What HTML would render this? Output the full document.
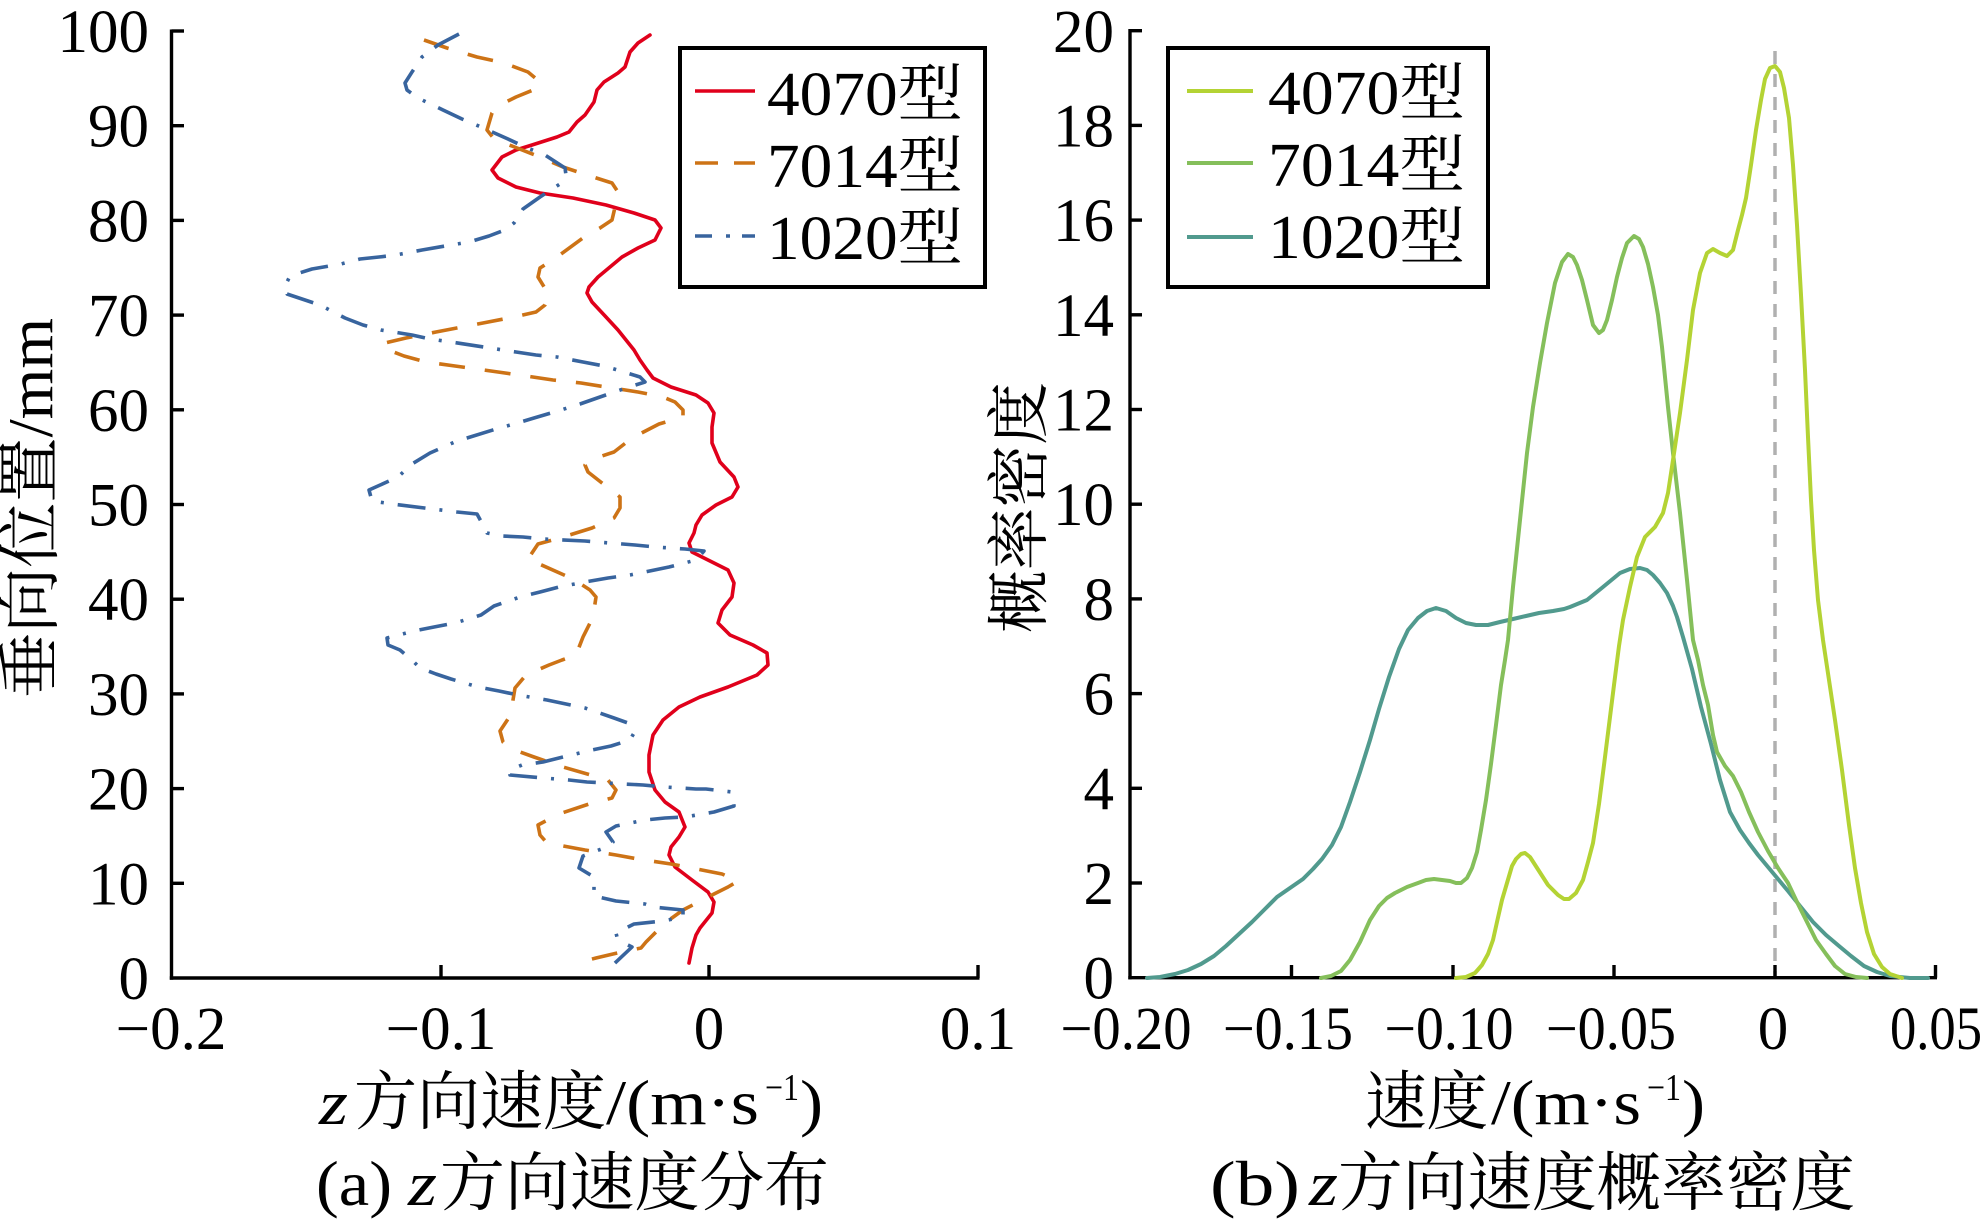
<!DOCTYPE html>
<html>
<head>
<meta charset="utf-8">
<style>
html,body{margin:0;padding:0;background:#fff;}
svg{display:block;}
text{font-family:"Liberation Serif","Noto Serif CJK SC",serif;fill:#000;}
</style>
</head>
<body>
<svg width="1984" height="1226" viewBox="0 0 1984 1226" xmlns="http://www.w3.org/2000/svg">
<rect width="1984" height="1226" fill="#fff"/>

<!-- ============ LEFT PLOT ============ -->
<g stroke="#000" stroke-width="3.4" fill="none">
  <line x1="171.5" y1="29.5" x2="171.5" y2="979.7"/>
  <line x1="169.8" y1="978" x2="979.5" y2="978"/>
  <line x1="171.5" y1="31" x2="184" y2="31"/>
  <line x1="171.5" y1="125.7" x2="184" y2="125.7"/>
  <line x1="171.5" y1="220.4" x2="184" y2="220.4"/>
  <line x1="171.5" y1="315.1" x2="184" y2="315.1"/>
  <line x1="171.5" y1="409.8" x2="184" y2="409.8"/>
  <line x1="171.5" y1="504.5" x2="184" y2="504.5"/>
  <line x1="171.5" y1="599.2" x2="184" y2="599.2"/>
  <line x1="171.5" y1="693.9" x2="184" y2="693.9"/>
  <line x1="171.5" y1="788.6" x2="184" y2="788.6"/>
  <line x1="171.5" y1="883.3" x2="184" y2="883.3"/>
  <line x1="441" y1="978" x2="441" y2="965"/>
  <line x1="709" y1="978" x2="709" y2="965"/>
  <line x1="978" y1="978" x2="978" y2="965"/>
</g>
<g font-size="61" text-anchor="end">
  <text x="149" y="52">100</text>
  <text x="149" y="146.7">90</text>
  <text x="149" y="241.4">80</text>
  <text x="149" y="336">70</text>
  <text x="149" y="430.8">60</text>
  <text x="149" y="525.5">50</text>
  <text x="149" y="620.2">40</text>
  <text x="149" y="715">30</text>
  <text x="149" y="809.6">20</text>
  <text x="149" y="904.3">10</text>
  <text x="149" y="999">0</text>
</g>
<g font-size="61" text-anchor="middle">
  <text x="171" y="1049">−0.2</text>
  <text x="441" y="1049">−0.1</text>
  <text x="709" y="1049">0</text>
  <text x="978" y="1049">0.1</text>
</g>

<polyline fill="none" stroke="#e0001b" stroke-width="3.6" stroke-linejoin="round" stroke-linecap="round"
points="650,35 638,43 630,52 625,67 618,73 604,82 597,90 594,102 585,115 577,122 569,132 557,137 532,145 516,150 502,157 492,170 498,178 516,187 540,193 573,198 606,205 634,213 655,220 661,228 655,240 638,248 622,257 610,267 598,277 589,287 587,293 592,302 606,317 618,330 626,340 634,350 640,360 647,370 653,378 671,387 696,395 708,403 714,413 712,427 712,443 720,462 734,477 738,487 732,497 716,505 702,515 696,525 694,533 689,543 692,552 708,560 728,570 734,583 732,597 722,610 718,623 730,635 753,645 767,653 768,665 757,675 728,687 700,697 679,707 663,720 653,735 649,755 649,772 655,790 665,802 679,812 685,827 679,837 671,847 669,855 675,867 692,880 708,892 714,902 712,913 700,928 696,935 692,948 689,963"/>

<polyline fill="none" stroke="#cd7316" stroke-width="3.6" stroke-linejoin="round" stroke-dasharray="26 20"
points="424,40 447,48 477,57 504,63 528,72 540,82 538,88 516,97 498,106 492,113 487,130 495,140 512,146 540,157 563,167 587,175 612,183 618,192 616,203 612,220 600,228 587,235 557,257 540,268 538,277 549,295 545,305 536,312 514,317 483,323 436,332 406,338 385,343 383,348 404,356 426,362 455,366 498,372 526,376 553,380 581,383 606,387 638,392 663,397 675,402 683,410 683,417 659,424 632,438 614,452 590,460 585,465 588,472 602,483 620,497 620,508 614,518 592,528 563,537 538,544 528,559 573,579 590,590 596,597 593,617 583,637 576,655 562,660 549,665 526,675 515,688 513,700 512,713 500,731 503,742 512,749 534,757 563,767 608,780 616,790 612,798 589,804 559,814 538,825 540,835 547,843 585,850 616,855 638,859 671,864 692,868 722,874 738,881 728,887 714,894 683,910 665,923 650,938 646,942 641,948 626,951 596,958 573,964"/>

<polyline fill="none" stroke="#38649e" stroke-width="3.6" stroke-linejoin="round" stroke-dasharray="28 14 3 14"
points="459,34 438,45 422,57 412,72 405,83 407,90 418,98 443,110 462,119 481,127 508,139 525,147 545,155 565,168 566,175 563,182 540,197 523,209 514,223 505,230 489,236 469,242 451,245 422,250 396,255 379,257 360,259 341,264 312,269 290,276 284,288 287,294 308,301 320,305 345,318 363,325 381,330 412,335 430,339 451,342 516,352 536,355 557,357 583,362 604,366 624,372 640,377 645,382 626,388 600,397 580,404 561,410 534,418 514,424 496,429 467,438 457,441 430,453 412,464 398,477 369,490 372,501 392,504 457,512 477,514 483,525 487,533 502,536 523,537 543,539 585,541 610,543 635,545 655,547 685,549 704,551 696,560 669,567 630,575 608,578 585,582 559,587 540,592 520,597 494,606 481,615 455,623 434,627 414,631 387,638 388,645 400,650 414,662 420,668 436,674 451,679 478,687 499,691 518,695 547,700 566,704 585,708 614,718 628,723 634,733 630,740 611,746 592,750 563,757 543,762 522,765 510,770 510,775 543,778 569,780 587,782 624,784 643,785 665,787 696,789 706,789 732,792 734,806 714,812 685,817 665,818 645,820 616,826 606,832 613,842 604,848 583,856 579,868 594,877 594,885 594,896 616,901 645,904 653,907 683,910 683,917 663,921 634,924 616,933 617,937 622,942 632,947 614,964"/>

<rect x="680" y="48" width="305" height="239" fill="#fff" stroke="#000" stroke-width="4"/>
<line x1="695" y1="91" x2="755" y2="91" stroke="#e0001b" stroke-width="3.6"/>
<line x1="695" y1="163" x2="755" y2="163" stroke="#cd7316" stroke-width="3.6" stroke-dasharray="23 16"/>
<line x1="695" y1="236" x2="755" y2="236" stroke="#38649e" stroke-width="3.6" stroke-dasharray="17 14 4 12"/>
<g font-size="62">
  <text x="767" y="115" textLength="196" lengthAdjust="spacingAndGlyphs">4070型</text>
  <text x="767" y="187" textLength="196" lengthAdjust="spacingAndGlyphs">7014型</text>
  <text x="767" y="259" textLength="196" lengthAdjust="spacingAndGlyphs">1020型</text>
</g>

<text transform="translate(52,698) rotate(-90)" x="0" y="0" font-size="64" textLength="380" lengthAdjust="spacingAndGlyphs">垂向位置/mm</text>

<g font-size="64">
  <text x="319" y="1124" font-style="italic" textLength="29" lengthAdjust="spacingAndGlyphs">z</text>
  <text x="354" y="1124" textLength="252" lengthAdjust="spacingAndGlyphs">方向速度</text>
  <text x="606" y="1124" textLength="153" lengthAdjust="spacingAndGlyphs">/(m·s</text>
  <text x="765" y="1100" font-size="38" textLength="34" lengthAdjust="spacingAndGlyphs">−1</text>
  <text x="800" y="1124" textLength="23" lengthAdjust="spacingAndGlyphs">)</text>

  <text x="316" y="1205" textLength="76" lengthAdjust="spacingAndGlyphs">(a)</text>
  <text x="408" y="1205" font-style="italic" textLength="29" lengthAdjust="spacingAndGlyphs">z</text>
  <text x="440" y="1205" textLength="389" lengthAdjust="spacingAndGlyphs">方向速度分布</text>
</g>

<!-- ============ RIGHT PLOT ============ -->
<line x1="1775" y1="51" x2="1775" y2="978" stroke="#b0b0b0" stroke-width="3.5" stroke-dasharray="13 10"/>

<g stroke="#000" stroke-width="3.4" fill="none">
  <line x1="1130" y1="29" x2="1130" y2="979.4"/>
  <line x1="1128.3" y1="977.7" x2="1937" y2="977.7"/>
  <line x1="1130" y1="30.7" x2="1142" y2="30.7"/>
  <line x1="1130" y1="125.4" x2="1142" y2="125.4"/>
  <line x1="1130" y1="220.1" x2="1142" y2="220.1"/>
  <line x1="1130" y1="314.8" x2="1142" y2="314.8"/>
  <line x1="1130" y1="409.5" x2="1142" y2="409.5"/>
  <line x1="1130" y1="504.2" x2="1142" y2="504.2"/>
  <line x1="1130" y1="598.9" x2="1142" y2="598.9"/>
  <line x1="1130" y1="693.6" x2="1142" y2="693.6"/>
  <line x1="1130" y1="788.3" x2="1142" y2="788.3"/>
  <line x1="1130" y1="883" x2="1142" y2="883"/>
  <line x1="1291.5" y1="977.7" x2="1291.5" y2="965"/>
  <line x1="1453" y1="977.7" x2="1453" y2="965"/>
  <line x1="1614" y1="977.7" x2="1614" y2="965"/>
  <line x1="1775" y1="977.7" x2="1775" y2="965"/>
  <line x1="1935.5" y1="977.7" x2="1935.5" y2="965"/>
</g>
<g font-size="61" text-anchor="end">
  <text x="1114" y="52">20</text>
  <text x="1114" y="146.4">18</text>
  <text x="1114" y="241.1">16</text>
  <text x="1114" y="335.8">14</text>
  <text x="1114" y="430.5">12</text>
  <text x="1114" y="525.2">10</text>
  <text x="1114" y="619.9">8</text>
  <text x="1114" y="714.6">6</text>
  <text x="1114" y="809.3">4</text>
  <text x="1114" y="904">2</text>
  <text x="1114" y="998.7">0</text>
</g>
<g font-size="61" text-anchor="middle">
  <text x="1126" y="1049" textLength="131" lengthAdjust="spacingAndGlyphs">−0.20</text>
  <text x="1288" y="1049" textLength="130" lengthAdjust="spacingAndGlyphs">−0.15</text>
  <text x="1449" y="1049" textLength="129" lengthAdjust="spacingAndGlyphs">−0.10</text>
  <text x="1611" y="1049" textLength="130" lengthAdjust="spacingAndGlyphs">−0.05</text>
  <text x="1773" y="1049">0</text>
  <text x="1936" y="1049" textLength="92" lengthAdjust="spacingAndGlyphs">0.05</text>
</g>

<polyline fill="none" stroke="#519a8e" stroke-width="4" stroke-linejoin="round" stroke-linecap="round"
points="1147,978 1160,977 1175,974 1188,970 1201,964 1214,956 1226,946 1239,934 1252,922 1265,909 1277,897 1290,888 1303,879 1313,869 1322,859 1332,845 1341,827 1350,802 1360,772 1370,740 1379,709 1389,677 1399,649 1408,630 1418,618 1427,611 1436,608 1446,611 1456,618 1466,623 1476,625 1488,625 1500,622 1513,619 1526,616 1539,613 1553,611 1564,609 1570,607 1587,600 1603,587 1620,573 1630,569 1640,568 1647,570 1653,575 1660,583 1667,593 1673,606 1677,617 1683,637 1692,669 1701,707 1711,744 1720,780 1730,812 1740,830 1749,843 1758,855 1768,867 1778,879 1788,891 1800,906 1813,922 1826,935 1839,946 1851,956 1864,966 1877,972 1890,976 1910,978 1928,978"/>

<polyline fill="none" stroke="#85bf5b" stroke-width="4" stroke-linejoin="round" stroke-linecap="round"
points="1321,978 1331,976 1341,971 1350,960 1360,942 1370,920 1379,906 1387,898 1395,893 1407,887 1418,883 1426,880 1434,879 1442,880 1450,881 1456,883 1461,883 1467,878 1472,868 1477,852 1481,830 1486,800 1491,764 1496,725 1501,685 1505,660 1508,640 1513,587 1520,520 1527,453 1533,407 1540,363 1547,323 1555,283 1562,262 1568,254 1573,257 1577,265 1582,280 1587,300 1593,325 1599,333 1603,330 1607,320 1612,300 1617,277 1622,258 1627,243 1634,236 1639,239 1643,247 1648,264 1653,287 1658,315 1662,347 1668,407 1673,453 1680,513 1687,580 1693,640 1698,660 1703,685 1708,705 1713,735 1717,752 1725,766 1733,776 1741,792 1749,812 1758,832 1768,851 1778,868 1788,883 1797,902 1807,922 1816,940 1826,954 1835,966 1845,974 1856,977 1867,978"/>

<polyline fill="none" stroke="#b4d334" stroke-width="4" stroke-linejoin="round" stroke-linecap="round"
points="1456,978 1466,977 1475,973 1482,965 1488,954 1493,940 1497,922 1502,900 1507,883 1512,866 1516,859 1521,854 1525,853 1530,857 1539,871 1548,885 1558,895 1564,899 1569,899 1576,893 1583,880 1588,862 1593,843 1599,804 1604,765 1609,725 1614,685 1619,646 1623,620 1630,587 1637,557 1645,537 1655,527 1663,513 1668,493 1673,460 1680,413 1687,360 1693,310 1700,273 1707,253 1713,249 1720,253 1727,256 1733,250 1738,230 1742,215 1746,198 1751,165 1756,130 1761,100 1765,79 1770,68 1775,66 1780,72 1784,88 1789,118 1793,165 1797,225 1801,295 1805,370 1808,437 1811,500 1814,550 1818,600 1823,640 1829,680 1835,720 1842,770 1849,825 1855,868 1861,903 1867,932 1874,954 1882,967 1890,974 1902,978"/>

<rect x="1168" y="48" width="320" height="239" fill="#fff" stroke="#000" stroke-width="4"/>
<line x1="1187" y1="91" x2="1253" y2="91" stroke="#b4d334" stroke-width="4"/>
<line x1="1187" y1="163" x2="1253" y2="163" stroke="#85bf5b" stroke-width="4"/>
<line x1="1187" y1="237" x2="1253" y2="237" stroke="#519a8e" stroke-width="4"/>
<g font-size="62">
  <text x="1268" y="114" textLength="197" lengthAdjust="spacingAndGlyphs">4070型</text>
  <text x="1268" y="186" textLength="197" lengthAdjust="spacingAndGlyphs">7014型</text>
  <text x="1268" y="258" textLength="197" lengthAdjust="spacingAndGlyphs">1020型</text>
</g>

<text transform="translate(1041,633) rotate(-90)" x="0" y="0" font-size="63" textLength="251" lengthAdjust="spacingAndGlyphs">概率密度</text>

<g font-size="64">
  <text x="1365" y="1124" textLength="123" lengthAdjust="spacingAndGlyphs">速度</text>
  <text x="1491" y="1124" textLength="150" lengthAdjust="spacingAndGlyphs">/(m·s</text>
  <text x="1647" y="1100" font-size="38" textLength="34" lengthAdjust="spacingAndGlyphs">−1</text>
  <text x="1682" y="1124" textLength="23" lengthAdjust="spacingAndGlyphs">)</text>

  <text x="1210" y="1205" textLength="90" lengthAdjust="spacingAndGlyphs">(b)</text>
  <text x="1309" y="1205" font-style="italic" textLength="29" lengthAdjust="spacingAndGlyphs">z</text>
  <text x="1338" y="1205" textLength="517" lengthAdjust="spacingAndGlyphs">方向速度概率密度</text>
</g>
</svg>
</body>
</html>
